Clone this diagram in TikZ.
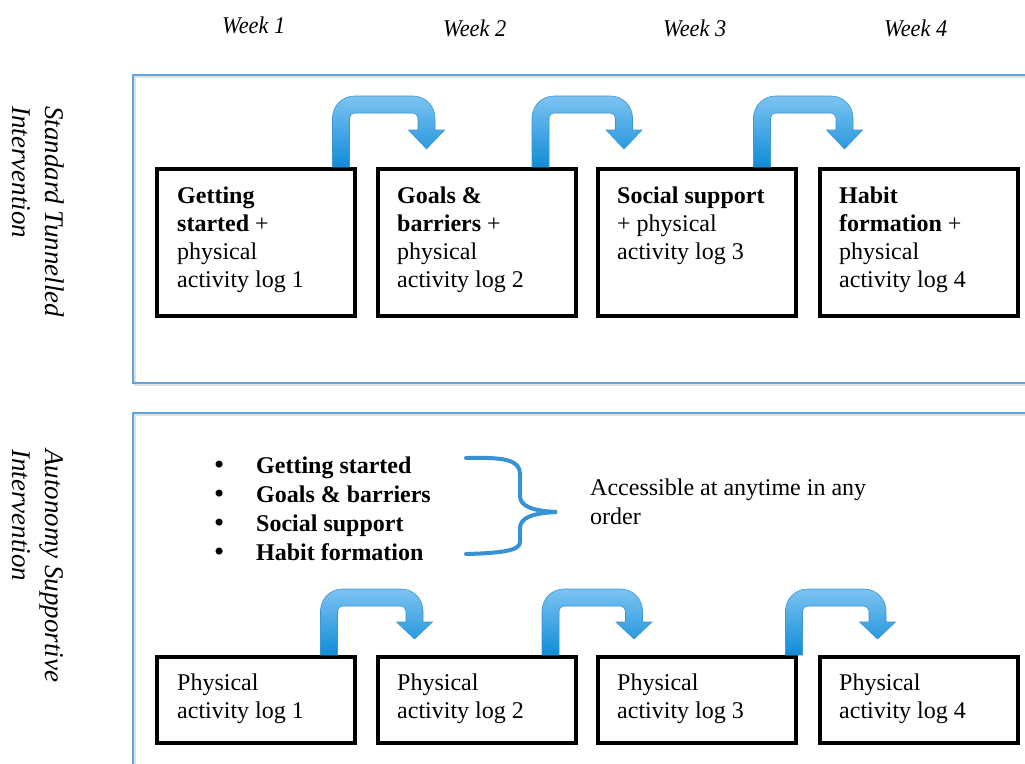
\documentclass[tikz,border=0pt]{standalone}
\usepackage{fontspec}
\setmainfont{Liberation Serif}
\newfontfamily\bulletfont{DejaVu Sans}
\usetikzlibrary{calc}
\definecolor{panelblue}{RGB}{95,165,220}
\definecolor{arrowtop}{RGB}{125,195,242}
\definecolor{arrowbot}{RGB}{15,140,215}
\definecolor{arrowline}{RGB}{60,150,212}
\definecolor{bracecol}{RGB}{55,145,210}
\tikzset{
  panel/.style={draw=panelblue, line width=1.5pt},
  panelshadow/.style={draw=black!12, line width=2.5pt},
  box/.style={draw=black, line width=4pt, minimum width=198pt, inner sep=0pt},
  topbox/.style={box, minimum height=147pt},
  botbox/.style={box, minimum height=86pt},
  boxtext/.style={anchor=north west, inner sep=0pt, align=left, font=\fontsize{24}{28}\selectfont},
  listtext/.style={anchor=north west, inner sep=0pt, align=left, font=\fontsize{24}{29}\selectfont},
  weeklabel/.style={anchor=base west, inner sep=0pt, font=\fontsize{24}{28}\selectfont\itshape},
  sidelabel/.style={anchor=north west, rotate=-90, inner sep=0pt, align=left, font=\fontsize{27}{33}\selectfont\itshape},
  barrow/.style={top color=arrowtop, bottom color=arrowbot, draw=arrowline, line width=0.6pt},
  bracepath/.style={draw=bracecol, line width=4pt, line cap=round},
}
\newcommand\bentarrow[7]{%
  \coordinate (s) at ($(#1.north east)+(#3,0)$);
  \coordinate (h) at ($(#2.north west)+(#4,0)$);
  \path[barrow] ($(s)+(-8.5,0)$) -- ($(s)+(-8.5,{-(#5-22)})$)
    .. controls ($(s)+(-8.5,{-(#5-9.86)})$) and ($(s)+(1.36,{-#5})$) .. ($(s)+(13.5,{-#5})$)
    -- ($(h)+(-13.5,{-#5})$)
    .. controls ($(h)+(-1.36,{-#5})$) and ($(h)+(8.5,{-(#5-9.86)})$) .. ($(h)+(8.5,{-(#5-22)})$)
    -- ($(h)+(8.5,{-#6})$) -- ($(h)+(18,{-#6})$) -- ($(h)+(0,{-#7})$)
    -- ($(h)+(-18,{-#6})$) -- ($(h)+(-8.5,{-#6})$)
    -- ($(h)+(-8.5,{-(#5-22)})$)
    .. controls ($(h)+(-8.5,{-(#5-19.24)})$) and ($(h)+(-11.26,{-(#5-17)})$) .. ($(h)+(-13.5,{-(#5-17)})$)
    -- ($(s)+(13.5,{-(#5-17)})$)
    .. controls ($(s)+(10.74,{-(#5-17)})$) and ($(s)+(8.5,{-(#5-19.24)})$) .. ($(s)+(8.5,{-(#5-22)})$)
    -- ($(s)+(8.5,0)$) -- cycle;
}
\newcommand\bulletmark{\makebox[44pt][l]{{\bulletfont •}}}
\begin{document}
\begin{tikzpicture}[x=1pt, y=-1pt]
\useasboundingbox (0,0) rectangle (1025,763);
\clip (0,0) rectangle (1025,763);
\fill[white] (0,0) rectangle (1025,763);

% week labels
\node[weeklabel] (w1) at (222,33) {\scalebox{0.93}[1]{Week 1}};
\node[weeklabel] (w2) at (443,36) {\scalebox{0.93}[1]{Week 2}};
\node[weeklabel] (w3) at (663,36) {\scalebox{0.93}[1]{Week 3}};
\node[weeklabel] (w4) at (884,36) {\scalebox{0.93}[1]{Week 4}};

% panels
\draw[panelshadow] (135,77) rectangle (1045,385);
\draw[panel] (133,75) rectangle (1040,383);
\draw[panelshadow] (135,415) rectangle (1045,805);
\draw[panel] (133,413) rectangle (1040,800);

% side labels
\node[sidelabel] (s1) at (69,106) {\strut Standard Tunnelled\\Intervention};
\node[sidelabel] (s2) at (69,449) {\strut Autonomy Supportive\\Intervention};

% top row boxes
\node[topbox] (t1) at (256,242.5) {};
\node[topbox] (t2) at (476.5,242.5) {};
\node[topbox] (t3) at (697,242.5) {};
\node[topbox] (t4) at (918.5,242.5) {};
\node[boxtext] (tt1) at (177,183.4) {\strut\textbf{Getting}\\\textbf{started} +\\physical\\activity log 1};
\node[boxtext] (tt2) at (397,183.4) {\strut\textbf{Goals \&}\\\textbf{barriers} +\\physical\\activity log 2};
\node[boxtext] (tt3) at (617,183.4) {\strut\textbf{Social support}\\+ physical\\activity log 3};
\node[boxtext] (tt4) at (839,183.4) {\strut\textbf{Habit}\\\textbf{formation} +\\physical\\activity log 4};

\bentarrow{t1}{t2}{-16}{51}{71}{37}{18}
\bentarrow{t2}{t3}{-37}{28}{71}{37}{18}
\bentarrow{t3}{t4}{-36}{27}{71}{37}{18}

% bullet list and brace
\node[listtext] (list) at (212,452.7) {\strut\bulletmark\textbf{Getting started}\\
  \bulletmark\textbf{Goals \& barriers}\\
  \bulletmark\textbf{Social support}\\
  \bulletmark\textbf{Habit formation}};
\draw[bracepath] (466,458) .. controls (505,457) and (520,460) .. (520,474) -- (520,496)
  .. controls (520,506) and (532,511) .. (557,512)
  .. controls (532,513) and (520,518) .. (520,528) -- (520,542)
  .. controls (520,550) and (505,553) .. (466,554);
\node[listtext] (acc) at (590,474.7) {\strut Accessible at anytime in any\\order};

% bottom row boxes
\node[botbox] (b1) at (256,700) {};
\node[botbox] (b2) at (476.5,700) {};
\node[botbox] (b3) at (697,700) {};
\node[botbox] (b4) at (918.5,700) {};
\node[boxtext] (bt1) at (177,670.4) {\strut Physical\\activity log 1};
\node[boxtext] (bt2) at (397,670.4) {\strut Physical\\activity log 2};
\node[boxtext] (bt3) at (617,670.4) {\strut Physical\\activity log 3};
\node[boxtext] (bt4) at (839,670.4) {\strut Physical\\activity log 4};

\bentarrow{b1}{b2}{-28}{39}{66}{33}{16}
\bentarrow{b2}{b3}{-27}{38}{66}{33}{16}
\bentarrow{b3}{b4}{-4}{60}{66}{33}{16}
\end{tikzpicture}
\end{document}
